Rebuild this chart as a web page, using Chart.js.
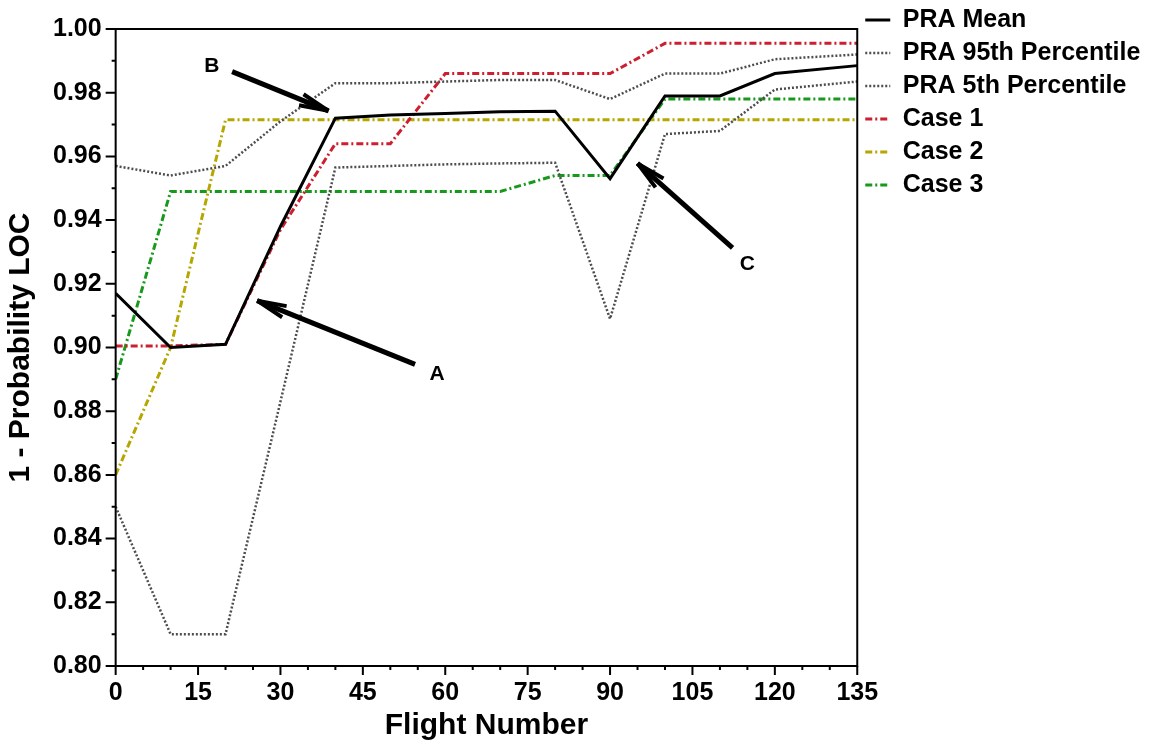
<!DOCTYPE html>
<html lang="en">
<head>
<meta charset="UTF-8">
<title>1 - Probability LOC vs Flight Number</title>
<script src="https://cdn.jsdelivr.net/npm/chart.js"></script>
<style>
  body { margin: 0; background: #fff; }
  #wrap { width: 1155px; height: 744px; position: relative; }
</style>
</head>
<body>
<div id="wrap"><canvas id="myChart"></canvas></div>
<script>
// flight numbers where the curves have points
const flights = [0, 10, 20, 30, 40, 50, 60, 70, 80, 90, 100, 110, 120, 135];

const praMean = [0.917, 0.900, 0.901, 0.938, 0.972, 0.973, 0.9735, 0.974, 0.9742, 0.953, 0.979, 0.979, 0.986, 0.9885];
const pra95   = [0.957, 0.954, 0.957, 0.971, 0.983, 0.983, 0.9835, 0.984, 0.984, 0.978, 0.986, 0.986, 0.9905, 0.992];
const pra5    = [0.850, 0.810, 0.810, 0.883, 0.9565, 0.957, 0.9575, 0.9578, 0.958, 0.909, 0.967, 0.968, 0.981, 0.9835];
const case1   = [0.9005, 0.9005, 0.901, 0.937, 0.964, 0.964, 0.986, 0.986, 0.986, 0.986, 0.9955, 0.9955, 0.9955, 0.9955];
const case2   = [0.860, 0.900, 0.9715, 0.9715, 0.9715, 0.9715, 0.9715, 0.9715, 0.9715, 0.9715, 0.9715, 0.9715, 0.9715, 0.9715];
const case3   = [0.890, 0.949, 0.949, 0.949, 0.949, 0.949, 0.949, 0.949, 0.954, 0.954, 0.978, 0.978, 0.978, 0.978];

const seriesNames = ['PRA Mean', 'PRA 95th Percentile', 'PRA 5th Percentile', 'Case 1', 'Case 2', 'Case 3'];

// arrow notes, in data units
const notes = [
  { label: 'A', at: [58.5, 0.8915], from: [54.5, 0.8947], to: [25.75, 0.9147] },
  { label: 'B', at: [17.5, 0.9882], from: [21.2, 0.9866], to: [38.75, 0.9743] },
  { label: 'C', at: [115.0, 0.926], from: [112.3, 0.9313], to: [95.0, 0.9578] }
];

const FONT = "'Liberation Sans', Arial, sans-serif";
Chart.defaults.font.family = FONT;
Chart.defaults.color = '#000';

function pts(values) {
  return values.map((v, i) => ({ x: flights[i], y: v }));
}

// frame + major/minor tick marks
const axisTicks = {
  id: 'axisTicks',
  afterDraw(chart) {
    const { ctx, chartArea: a, scales: { x, y } } = chart;
    ctx.save();
    ctx.strokeStyle = '#000';
    ctx.lineWidth = 2;
    ctx.strokeRect(a.left, a.top, a.right - a.left, a.bottom - a.top);
    ctx.beginPath();
    x.ticks.forEach(t => {
      const px = x.getPixelForValue(t.value);
      const len = t.value % 15 === 0 ? 9 : 4;
      ctx.moveTo(px, a.bottom);
      ctx.lineTo(px, a.bottom + len);
    });
    y.ticks.forEach(t => {
      const py = y.getPixelForValue(t.value);
      const major = Math.round(t.value * 100) % 2 === 0;
      ctx.moveTo(a.left, py);
      ctx.lineTo(a.left - (major ? 10 : 4), py);
    });
    ctx.stroke();
    ctx.restore();
  }
};

const arrowNotes = {
  id: 'arrowNotes',
  afterDatasetsDraw(chart) {
    const { ctx, scales: { x, y } } = chart;
    ctx.save();
    ctx.strokeStyle = '#000';
    ctx.fillStyle = '#000';
    ctx.lineCap = 'butt';
    notes.forEach(n => {
      const x0 = x.getPixelForValue(n.from[0]), y0 = y.getPixelForValue(n.from[1]);
      const x1 = x.getPixelForValue(n.to[0]), y1 = y.getPixelForValue(n.to[1]);
      const ang = Math.atan2(y1 - y0, x1 - x0);
      ctx.lineWidth = 5;
      ctx.beginPath();
      ctx.moveTo(x0, y0);
      ctx.lineTo(x1, y1);
      ctx.stroke();
      ctx.lineWidth = 4;
      ctx.beginPath();
      [-0.2, 0.2].forEach(s => {
        ctx.moveTo(x1, y1);
        ctx.lineTo(x1 - 30 * Math.cos(ang + s), y1 - 30 * Math.sin(ang + s));
      });
      ctx.stroke();
      ctx.font = 'bold 21px ' + FONT;
      ctx.textAlign = 'center';
      ctx.textBaseline = 'middle';
      ctx.fillText(n.label, x.getPixelForValue(n.at[0]), y.getPixelForValue(n.at[1]));
    });
    ctx.restore();
  }
};

const dashDot = [7, 3, 2, 3];

new Chart(document.getElementById('myChart'), {
  type: 'line',
  data: {
    datasets: [
      { label: seriesNames[0], data: pts(praMean), borderColor: '#000', borderWidth: 3 },
      { label: seriesNames[1], data: pts(pra95), borderColor: '#4d4d4d', borderWidth: 2.5, borderDash: [2, 2] },
      { label: seriesNames[2], data: pts(pra5), borderColor: '#4d4d4d', borderWidth: 2.5, borderDash: [2, 2] },
      { label: seriesNames[3], data: pts(case1), borderColor: '#cc1f2f', borderWidth: 3, borderDash: dashDot },
      { label: seriesNames[4], data: pts(case2), borderColor: '#b5a600', borderWidth: 3, borderDash: dashDot },
      { label: seriesNames[5], data: pts(case3), borderColor: '#17991c', borderWidth: 3, borderDash: dashDot }
    ]
  },
  options: {
    responsive: true,
    maintainAspectRatio: false,
    animation: false,
    elements: { point: { radius: 0 }, line: { tension: 0, fill: false } },
    layout: { padding: { top: -0.5, left: 0, right: 12, bottom: 0 } },
    plugins: {
      title: { display: true, text: ' ', fullSize: false, font: { size: 10 }, padding: { top: 0, bottom: 16.5 } },
      legend: {
        position: 'right',
        align: 'start',
        labels: {
          usePointStyle: true,
          pointStyleWidth: 25,
          padding: 8,
          color: '#000',
          font: { size: 25, weight: 'bold' },
          // use the dataset's own line style for the sample
          generateLabels(chart) {
            return Chart.defaults.plugins.legend.labels.generateLabels(chart).map(item => {
              const ds = chart.data.datasets[item.datasetIndex];
              item.pointStyle = 'line';
              item.lineDash = ds.borderDash || [];
              item.lineWidth = ds.borderWidth;
              item.strokeStyle = ds.borderColor;
              return item;
            });
          }
        }
      },
      tooltip: { enabled: false }
    },
    scales: {
      x: {
        type: 'linear',
        min: 0,
        max: 135,
        grid: { display: false, drawTicks: false },
        border: { display: false },
        ticks: {
          stepSize: 5,
          autoSkip: false,
          maxRotation: 0,
          padding: 12,
          font: { size: 25, weight: 'bold' },
          callback: v => (v % 15 === 0 ? String(v) : '')
        },
        title: { display: true, text: 'Flight Number', font: { size: 30, weight: 'bold' }, padding: { top: -12, bottom: 0 } }
      },
      y: {
        min: 0.8,
        max: 1.0,
        grid: { display: false, drawTicks: false },
        border: { display: false },
        ticks: {
          stepSize: 0.01,
          autoSkip: false,
          padding: 14,
          font: { size: 25, weight: 'bold' },
          callback: v => (Math.round(v * 100) % 2 === 0 ? v.toFixed(2) : '')
        },
        title: { display: true, text: '1 - Probability LOC', font: { size: 30, weight: 'bold' }, padding: { top: 3, bottom: 0 } }
      }
    }
  },
  plugins: [axisTicks, arrowNotes]
});
</script>
</body>
</html>
